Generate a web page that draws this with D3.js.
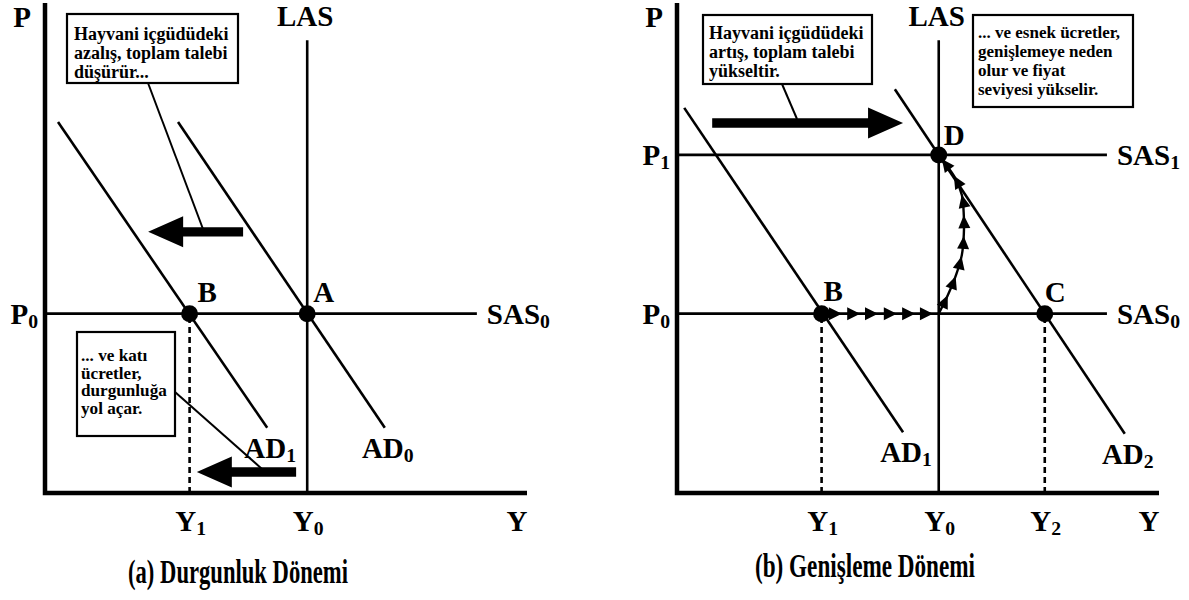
<!DOCTYPE html>
<html><head><meta charset="utf-8">
<script src="https://cdn.jsdelivr.net/npm/d3@7"></script>
<style>
html,body{margin:0;padding:0;background:#fff;}
svg text{font-family:"Liberation Serif","Times New Roman",serif;font-weight:bold;fill:#000;}
</style></head>
<body><svg id="chart" width="1189" height="600"></svg>
<script>
// ---------- DATA (abstract units: quantity 0-100, price 0-100) ----------
// Panel (a) Durgunluk Dönemi
const aQTicks = [{lab:"Y", sub:"1", q:30}, {lab:"Y", sub:"0", q:54.4}];
const aPTicks = [{lab:"P", sub:"0", p:36.6}];
const aSAS = [{lab:"SAS", sub:"0", p:36.6, qEnd:89.6}];
const aLAS = [{q:54.4, pTop:92.4}];
const aAD = [
  {lab:"AD", sub:"0", pts:[[27.6,75.7],[70.5,13.3]]},
  {lab:"AD", sub:"1", pts:[[2.7,75.7],[46.1,13.3]]}
];
const aPoints = [{name:"A", q:54.4, p:36.6}, {name:"B", q:30, p:36.6}];
const aDashed = [{q:30, p:36.6}];
const aShifts = [{from:41.1, to:21.4, p:53.3}, {from:52.1, to:31.5, p:4.3}];
const aNotes = [
  ["Hayvani içgüdüdeki", "azalış, toplam talebi", "düşürür..."],
  ["... ve katı", "ücretler,", "durgunluğa", "yol açar."]
];
// Panel (b) Genişleme Dönemi
const bQTicks = [{lab:"Y", sub:"1", q:30}, {lab:"Y", sub:"0", q:54.3}, {lab:"Y", sub:"2", q:76.3}];
const bPTicks = [{lab:"P", sub:"1", p:69.0}, {lab:"P", sub:"0", p:36.6}];
const bSAS = [{lab:"SAS", sub:"1", p:69.0, qEnd:89.2}, {lab:"SAS", sub:"0", p:36.6, qEnd:89.2}];
const bLAS = [{q:54.3, pTop:92.4}];
const bAD = [
  {lab:"AD", sub:"1", pts:[[1.5,78.6],[46.9,12.4]]},
  {lab:"AD", sub:"2", pts:[[45.2,82.4],[92.9,12.1]]}
];
const bPoints = [{name:"B", q:30, p:36.6}, {name:"C", q:76.3, p:36.6}, {name:"D", q:54.3, p:69.0}];
const bDashed = [{q:30, p:36.6}, {q:76.3, p:36.6}];
const bShifts = [{from:7.3, to:46.9, p:75.5}];
const bChainH = [34.2, 38.0, 41.7, 45.6, 49.4, 53.1];   // arrow tips along SAS0
const bChainCurve = [[54.3,36.6],[56.2,40.4],[57.9,44.5],[59.1,48.6],[59.5,52.7],[59.5,56.7],[59.1,60.8],[57.7,64.3],[55.6,67.3],[54.3,69.0]];
const bNotes = [
  ["Hayvani içgüdüdeki", "artış, toplam talebi", "yükseltir."],
  ["... ve esnek ücretler,", "genişlemeye neden", "olur ve fiyat", "seviyesi yükselir."]
];
const captions = ["(a) Durgunluk Dönemi", "(b) Genişleme Dönemi"];

// ---------- LAYOUT ----------
const svg = d3.select("#chart");
svg.append("rect").attr("width",1189).attr("height",600).attr("fill","#fff");

const yScale = d3.scaleLinear().domain([0,100]).range([493,3]);
const xA = d3.scaleLinear().domain([0,100]).range([45,527]);
const xB = d3.scaleLinear().domain([0,100]).range([677,1159]);

const LW = 2.6, AXW = 4.5, LBL = 29;

function label(g, x, y, main, sub, anchor, size) {
  size = size || LBL;
  const t = g.append("text").attr("x", x).attr("y", y).attr("font-size", size)
    .attr("text-anchor", anchor || "start");
  t.append("tspan").text(main);
  if (sub) t.append("tspan").attr("font-size", size*0.68).attr("dy", size*0.14).text(sub);
  return t;
}

function blockArrow(g, x0, x1, y) {
  const dir = Math.sign(x1 - x0), hl = 35, hh = 15.5, sh = 4.7;
  const hb = x1 - dir*hl;
  const p = d3.path();
  p.moveTo(x0, y-sh); p.lineTo(hb, y-sh); p.lineTo(hb, y-hh); p.lineTo(x1, y);
  p.lineTo(hb, y+hh); p.lineTo(hb, y+sh); p.lineTo(x0, y+sh); p.closePath();
  g.append("path").attr("d", p.toString()).attr("fill","#000");
}

function noteBox(g, box, lines) {
  g.append("rect").attr("x",box.x).attr("y",box.y).attr("width",box.w).attr("height",box.h)
    .attr("fill","#fff").attr("stroke","#000").attr("stroke-width",2.2);
  lines.forEach((s,i)=>{
    g.append("text").attr("transform", `translate(${box.x+box.pad},${box.y+box.first+i*box.lh}) scale(${box.sx},1)`)
      .attr("font-size", box.fs).text(s);
  });
}

function panel(cfg) {
  const x = cfg.x, y = yScale, g = svg.append("g");
  const line = d3.line().x(d=>x(d[0])).y(d=>y(d[1]));
  // SAS lines
  cfg.sas.forEach(s=>{
    g.append("path").attr("d", line([[0,s.p],[s.qEnd,s.p]])).attr("stroke","#000").attr("stroke-width",LW);
    label(g, x(s.qEnd)+10, y(s.p)+10, s.lab, s.sub);
  });
  // LAS
  cfg.las.forEach(l=>{
    g.append("path").attr("d", line([[l.q,0],[l.q,l.pTop]])).attr("stroke","#000").attr("stroke-width",LW);
    label(g, x(l.q)-2, 26, "LAS", null, "middle");
  });
  // AD lines
  cfg.ad.forEach(a=>{
    g.append("path").attr("d", line(a.pts)).attr("stroke","#000").attr("stroke-width",LW).attr("fill","none");
    const e = a.pts[1];
    label(g, x(e[0])+3, y(e[1])+30, a.lab, a.sub, "middle");
  });
  // dashed verticals
  cfg.dashed.forEach(d=>{
    g.append("path").attr("d", line([[d.q,0],[d.q,d.p]])).attr("stroke","#000")
      .attr("stroke-width",2.6).attr("stroke-dasharray","6,4");
  });
  // axes
  g.append("path").attr("d", line([[0,100],[0,0],[100,0]])).attr("fill","none")
    .attr("stroke","#000").attr("stroke-width",AXW).attr("stroke-linejoin","miter");
  label(g, x(0)-23, 27, "P", null, "middle");
  label(g, x(100)-10, 531, "Y", null, "middle");
  cfg.qTicks.forEach(t=> label(g, x(t.q)+1, 531, t.lab, t.sub, "middle"));
  cfg.pTicks.forEach(t=> label(g, x(0)-7, y(t.p)+10, t.lab, t.sub, "end"));
  // chain arrows
  if (cfg.chainH) {
    cfg.chainH.forEach(q=>{
      const tx = x(q), ty = y(cfg.chainP);
      g.append("path").attr("d", `M${tx},${ty} L${tx-13},${ty-6.5} L${tx-13},${ty+6.5} Z`).attr("fill","#000");
    });
  }
  if (cfg.chainCurve) {
    const cl = d3.line().x(d=>x(d[0])).y(d=>y(d[1])).curve(d3.curveCatmullRom.alpha(0.5));
    const path = g.append("path").attr("d", cl(cfg.chainCurve)).attr("fill","none")
      .attr("stroke","#000").attr("stroke-width",2.4);
    const node = path.node(), L = node.getTotalLength();
    const n = 8;
    for (let i=0;i<n;i++){
      const s = L*(0.12 + i*(0.85/(n-1)));
      const p = node.getPointAtLength(s), q = node.getPointAtLength(Math.max(0,s-2));
      const ang = Math.atan2(p.y-q.y, p.x-q.x)*180/Math.PI;
      g.append("path").attr("d","M0,0 L-13,-6 L-13,6 Z").attr("fill","#000")
        .attr("transform",`translate(${p.x},${p.y}) rotate(${ang})`);
    }
  }
  // shift arrows
  cfg.shifts.forEach(s=> blockArrow(g, x(s.from), x(s.to), y(s.p)));
  // leader lines + notes
  cfg.leaders.forEach(l=>{
    g.append("line").attr("x1",l[0]).attr("y1",l[1]).attr("x2",l[2]).attr("y2",l[3])
      .attr("stroke","#000").attr("stroke-width",2);
  });
  cfg.notes.forEach((lines,i)=> noteBox(g, cfg.boxes[i], lines));
  // points
  cfg.points.forEach((pt,i)=>{
    g.append("circle").attr("cx",x(pt.q)).attr("cy",y(pt.p)).attr("r",8.5).attr("fill","#000");
    label(g, x(pt.q)+cfg.ptDx[i], y(pt.p)+cfg.ptDy[i], pt.name, null, "start");
  });
  // caption
  svg.append("text").attr("x", cfg.capX).attr("y", cfg.capY).attr("font-size", 34)
    .attr("textLength", 220).attr("lengthAdjust","spacingAndGlyphs").text(cfg.caption);
}

panel({x:xA, sas:aSAS, las:aLAS, ad:aAD, dashed:aDashed, qTicks:aQTicks, pTicks:aPTicks,
  shifts:aShifts, notes:aNotes, points:aPoints, ptDx:[6,8], ptDy:[-12,-12],
  boxes:[{x:67,y:14,w:171,h:69,pad:7,first:26,lh:19,fs:18,sx:1.0},{x:77,y:332,w:98,h:104,pad:4,first:29,lh:17.5,fs:16.5,sx:1.04}],
  leaders:[[148,83,203,229],[175,392,262,469]],
  caption:captions[0], capX:128, capY:583});

panel({x:xB, sas:bSAS, las:bLAS, ad:bAD, dashed:bDashed, qTicks:bQTicks, pTicks:bPTicks,
  shifts:bShifts, notes:bNotes, points:bPoints, ptDx:[2,0,5], ptDy:[-13,-12,-10],
  chainH:bChainH, chainP:36.6, chainCurve:bChainCurve,
  boxes:[{x:703,y:15,w:169,h:69,pad:6,first:24,lh:19,fs:18,sx:1.0},{x:973,y:15,w:160,h:92,pad:5,first:23,lh:19,fs:17,sx:1.0}],
  leaders:[[782,84,797,119]],
  caption:captions[1], capX:755, capY:577});
</script></body></html>
